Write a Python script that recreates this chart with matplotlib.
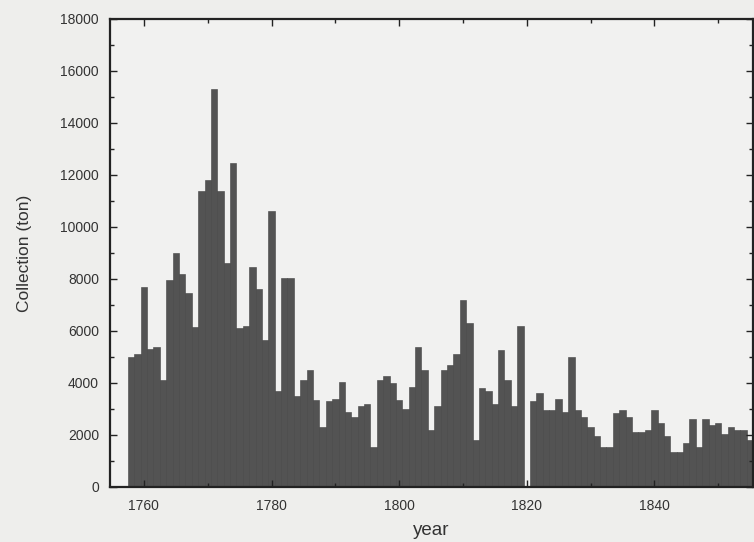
import matplotlib
matplotlib.use('Agg')
import matplotlib.pyplot as plt
import matplotlib.ticker as ticker

# Yearly collection (ton)
years = list(range(1758, 1856))
collection = [
    5000, 5100, 7700, 5300, 5400, 4100, 7950, 9000, 8200, 7450,    # 1758-1767
    6150, 11400, 11800, 15300, 11400, 8600, 12450, 6100, 6200, 8450,  # 1768-1777
    7600, 5650, 10600, 3700, 8050, 8050, 3500, 4100, 4500, 3350,   # 1778-1787
    2300, 3300, 3400, 4050, 2900, 2700, 3100, 3200, 1550, 4100,    # 1788-1797
    4250, 4000, 3350, 3000, 3850, 5400, 4500, 2200, 3100, 4500,    # 1798-1807
    4700, 5100, 7200, 6300, 1800, 3800, 3700, 3200, 5250, 4100,    # 1808-1817
    3100, 6200, 0, 3300, 3600, 2950, 2950, 3400, 2900, 5000,       # 1818-1827
    2950, 2700, 2300, 1950, 1550, 1550, 2850, 2950, 2700, 2100,    # 1828-1837
    2100, 2200, 2950, 2450, 1950, 1350, 1350, 1700, 2600, 1550,    # 1838-1847
    2600, 2400, 2450, 2050, 2300, 2200, 2200, 1800,                # 1848-1855
]

x_ticks = [1760, 1780, 1800, 1820, 1840]
y_ticks = list(range(0, 18001, 2000))

plt.rcParams['font.family'] = ['Liberation Sans', 'DejaVu Sans']

fig = plt.figure(figsize=(7.54, 5.42), dpi=100, facecolor='#eeeeec')
ax = fig.add_axes([0.146, 0.1015, 0.853, 0.8635])
ax.set_facecolor('#f1f1f0')

ax.bar(years, collection, width=1.0, color='#535353', edgecolor='#444444',
       linewidth=0.4, align='center')

ax.set_xlim(1754.7, 1855.5)
ax.set_ylim(0, 18000)
ax.set_xticks(x_ticks)
ax.set_yticks(y_ticks)
ax.xaxis.set_minor_locator(ticker.MultipleLocator(10))
ax.yaxis.set_minor_locator(ticker.MultipleLocator(1000))
ax.tick_params(which='both', direction='in', top=True, right=True,
               labelsize=10, labelcolor='#333333', color='#222222', width=1.0)
ax.tick_params(which='major', length=5)
ax.tick_params(which='minor', length=3)
ax.tick_params(axis='x', pad=9)
ax.tick_params(axis='y', pad=8)

for side in ['left', 'bottom', 'top', 'right']:
    ax.spines[side].set_linewidth(1.6)
    ax.spines[side].set_color('#222222')

ax.set_xlabel('year', fontsize=13.5, color='#333333', labelpad=6)
ax.set_ylabel('Collection (ton)', fontsize=12.5, color='#333333', labelpad=20)

plt.savefig('out.png', dpi=100, facecolor=fig.get_facecolor())
plt.close()
